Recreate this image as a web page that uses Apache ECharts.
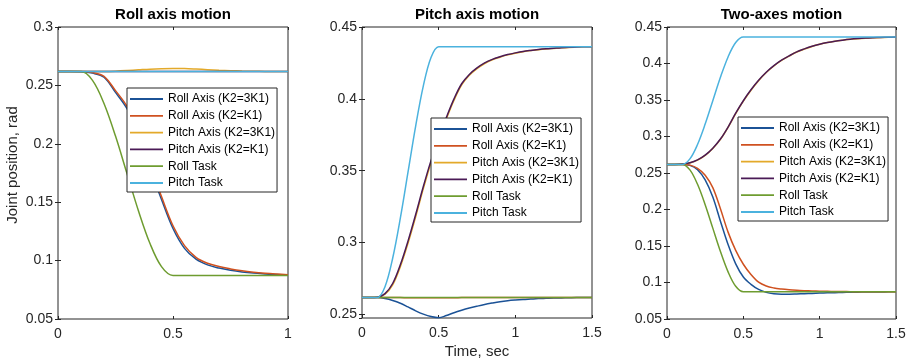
<!DOCTYPE html>
<html>
<head>
<meta charset="utf-8">
<script src="https://cdn.jsdelivr.net/npm/echarts@6/dist/echarts.min.js"></script>
<style>
  html, body { margin: 0; padding: 0; background: #fff; }
  #chart { width: 912px; height: 364px; }
</style>
</head>
<body>
<div id="chart"></div>
<script>
// Time samples (sec)
const timeRoll = [0, 0.05, 0.1, 0.15, 0.2, 0.25, 0.3, 0.35, 0.4, 0.45, 0.5,
  0.55, 0.6, 0.65, 0.7, 0.75, 0.8, 0.85, 0.9, 0.95, 1.0];
const timeLong = [0, 0.05, 0.1, 0.15, 0.2, 0.25, 0.3, 0.35, 0.4, 0.45, 0.5,
  0.55, 0.6, 0.65, 0.7, 0.75, 0.8, 0.85, 0.9, 0.95, 1.0,
  1.05, 1.1, 1.15, 1.2, 1.25, 1.3, 1.35, 1.4, 1.45, 1.5];

const seriesNames = ['Roll Axis (K2=3K1)', 'Roll Axis (K2=K1)', 'Pitch Axis (K2=3K1)',
  'Pitch Axis (K2=K1)', 'Roll Task', 'Pitch Task'];
const seriesColors = ['#1b5296', '#cf5120', '#e3a92a', '#4a1a56', '#6e9c30', '#4bb2de'];

const panelTitles = ['Roll axis motion', 'Pitch axis motion', 'Two-axes motion'];
const yTickMin = [0.05, 0.2475, 0.05];
const yTickMax = [0.3, 0.45, 0.45];
const xTickMax = [1, 1.5, 1.5];

// Roll axis motion (joint position, rad)
const rollRollK3 = [0.2618, 0.2618, 0.2617, 0.2605, 0.2570, 0.2440, 0.2300, 0.2078, 0.1788, 0.1524, 0.1275,
  0.1105, 0.1012, 0.0963, 0.0936, 0.0917, 0.0903, 0.0893, 0.0886, 0.0880, 0.0876];
const rollRollK1 = [0.2618, 0.2618, 0.2618, 0.2610, 0.2578, 0.2455, 0.2320, 0.2100, 0.1815, 0.1548, 0.1298,
  0.1128, 0.1028, 0.0977, 0.0949, 0.0929, 0.0913, 0.0901, 0.0892, 0.0885, 0.0879];
const rollPitchK3 = [0.2618, 0.2618, 0.2618, 0.2618, 0.2619, 0.2622, 0.2627, 0.2633, 0.2639, 0.2643, 0.2645,
  0.2644, 0.2640, 0.2635, 0.2630, 0.2626, 0.2623, 0.2621, 0.2620, 0.2619, 0.2618];
const rollPitchK1 = [0.2618, 0.2618, 0.2618, 0.2618, 0.2618, 0.2619, 0.2619, 0.2620, 0.2620, 0.2620, 0.2620,
  0.2620, 0.2619, 0.2619, 0.2619, 0.2618, 0.2618, 0.2618, 0.2618, 0.2618, 0.2618];
const rollRollTask = [0.2618, 0.2618, 0.2618, 0.2543, 0.2345, 0.2066, 0.1745, 0.1425, 0.1146, 0.0948, 0.0873,
  0.0873, 0.0873, 0.0873, 0.0873, 0.0873, 0.0873, 0.0873, 0.0873, 0.0873, 0.0873];
const rollPitchTask = [0.2618, 0.2618, 0.2618, 0.2618, 0.2618, 0.2618, 0.2618, 0.2618, 0.2618, 0.2618, 0.2618,
  0.2618, 0.2618, 0.2618, 0.2618, 0.2618, 0.2618, 0.2618, 0.2618, 0.2618, 0.2618];

// Pitch axis motion
const pitchRollK3 = [0.2618, 0.2618, 0.2617, 0.2610, 0.2597, 0.2578, 0.2552, 0.2525, 0.2502, 0.2485, 0.2477,
  0.2492, 0.2512, 0.2529, 0.2544, 0.2557, 0.2569, 0.2579, 0.2588, 0.2595, 0.2600,
  0.2604, 0.2607, 0.2610, 0.2612, 0.2614, 0.2615, 0.2616, 0.2617, 0.2617, 0.2618];
const pitchRollK1 = [0.2618, 0.2618, 0.2618, 0.2618, 0.2617, 0.2617, 0.2616, 0.2616, 0.2616, 0.2616, 0.2616,
  0.2616, 0.2616, 0.2617, 0.2617, 0.2617, 0.2617, 0.2617, 0.2618, 0.2618, 0.2618,
  0.2618, 0.2618, 0.2618, 0.2618, 0.2618, 0.2618, 0.2618, 0.2618, 0.2618, 0.2618];
const pitchPitchK3 = [0.2618, 0.2618, 0.2619, 0.2640, 0.2705, 0.2832, 0.2995, 0.3180, 0.3375, 0.3557, 0.3718,
  0.3860, 0.3990, 0.4097, 0.4164, 0.4210, 0.4246, 0.4272, 0.4290, 0.4306, 0.4318,
  0.4328, 0.4336, 0.4342, 0.4347, 0.4351, 0.4355, 0.4358, 0.4360, 0.4362, 0.4363];
const pitchPitchK1 = [0.2618, 0.2618, 0.2620, 0.2645, 0.2715, 0.2845, 0.3010, 0.3195, 0.3390, 0.3570, 0.3730,
  0.3870, 0.4000, 0.4105, 0.4170, 0.4215, 0.4250, 0.4275, 0.4293, 0.4308, 0.4320,
  0.4330, 0.4337, 0.4343, 0.4348, 0.4352, 0.4356, 0.4359, 0.4361, 0.4362, 0.4363];
const pitchRollTask = [0.2618, 0.2618, 0.2618, 0.2618, 0.2618, 0.2618, 0.2618, 0.2618, 0.2618, 0.2618, 0.2618,
  0.2618, 0.2618, 0.2618, 0.2618, 0.2618, 0.2618, 0.2618, 0.2618, 0.2618, 0.2618,
  0.2618, 0.2618, 0.2618, 0.2618, 0.2618, 0.2618, 0.2618, 0.2618, 0.2618, 0.2618];
const pitchPitchTask = [0.2618, 0.2618, 0.2618, 0.2693, 0.2891, 0.3170, 0.3490, 0.3811, 0.4090, 0.4288, 0.4363,
  0.4363, 0.4363, 0.4363, 0.4363, 0.4363, 0.4363, 0.4363, 0.4363, 0.4363, 0.4363,
  0.4363, 0.4363, 0.4363, 0.4363, 0.4363, 0.4363, 0.4363, 0.4363, 0.4363, 0.4363];

// Two-axes motion
const bothRollK3 = [0.2618, 0.2618, 0.2617, 0.2605, 0.2545, 0.2405, 0.2170, 0.1840, 0.1520, 0.1255, 0.1075,
  0.0975, 0.0905, 0.0865, 0.0846, 0.0840, 0.0840, 0.0843, 0.0847, 0.0851, 0.0855,
  0.0858, 0.0861, 0.0864, 0.0866, 0.0868, 0.0869, 0.0870, 0.0871, 0.0872, 0.0873];
const bothRollK1 = [0.2618, 0.2618, 0.2618, 0.2608, 0.2565, 0.2470, 0.2300, 0.2010, 0.1690, 0.1440, 0.1250,
  0.1110, 0.1005, 0.0952, 0.0925, 0.0910, 0.0900, 0.0893, 0.0888, 0.0884, 0.0881,
  0.0879, 0.0877, 0.0876, 0.0875, 0.0874, 0.0874, 0.0873, 0.0873, 0.0873, 0.0873];
const bothPitchK3 = [0.2618, 0.2618, 0.2621, 0.2638, 0.2677, 0.2741, 0.2835, 0.2960, 0.3124, 0.3314, 0.3484,
  0.3634, 0.3765, 0.3876, 0.3966, 0.4042, 0.4102, 0.4157, 0.4198, 0.4234, 0.4263,
  0.4287, 0.4305, 0.4319, 0.4331, 0.4340, 0.4347, 0.4352, 0.4356, 0.4359, 0.4361];
const bothPitchK1 = [0.2618, 0.2618, 0.2622, 0.2640, 0.2680, 0.2745, 0.2840, 0.2965, 0.3130, 0.3320, 0.3490,
  0.3640, 0.3770, 0.3880, 0.3970, 0.4045, 0.4105, 0.4160, 0.4200, 0.4236, 0.4265,
  0.4288, 0.4306, 0.4320, 0.4332, 0.4341, 0.4348, 0.4353, 0.4357, 0.4360, 0.4362];
const bothRollTask = [0.2618, 0.2618, 0.2618, 0.2543, 0.2345, 0.2066, 0.1745, 0.1425, 0.1146, 0.0948, 0.0873,
  0.0873, 0.0873, 0.0873, 0.0873, 0.0873, 0.0873, 0.0873, 0.0873, 0.0873, 0.0873,
  0.0873, 0.0873, 0.0873, 0.0873, 0.0873, 0.0873, 0.0873, 0.0873, 0.0873, 0.0873];
const bothPitchTask = [0.2618, 0.2618, 0.2618, 0.2693, 0.2891, 0.3170, 0.3490, 0.3811, 0.4090, 0.4288, 0.4363,
  0.4363, 0.4363, 0.4363, 0.4363, 0.4363, 0.4363, 0.4363, 0.4363, 0.4363, 0.4363,
  0.4363, 0.4363, 0.4363, 0.4363, 0.4363, 0.4363, 0.4363, 0.4363, 0.4363, 0.4363];

const panels = [
  { time: timeRoll, lines: [rollRollK3, rollRollK1, rollPitchK3, rollPitchK1, rollRollTask, rollPitchTask] },
  { time: timeLong, lines: [pitchRollK3, pitchRollK1, pitchPitchK3, pitchPitchK1, pitchRollTask, pitchPitchTask] },
  { time: timeLong, lines: [bothRollK3, bothRollK1, bothPitchK3, bothPitchK1, bothRollTask, bothPitchTask] }
];

const FONT = '"Liberation Sans", Arial, Helvetica, sans-serif';
const INK = '#262626';

// Plot boxes in pixels: [left, top, width, height]
const boxes = [[58, 27, 230, 292], [362, 27, 230, 291], [667, 27, 229, 292]];
const legendPos = [[127, 88], [431, 118], [738, 117]];

function pair(t, v) { return t.map((x, i) => [x, v[i]]); }

const grid = boxes.map(b => ({
  left: b[0], top: b[1], width: b[2], height: b[3],
  show: true, borderColor: INK, borderWidth: 1, backgroundColor: '#fff'
}));

function tickLabelFmt(v) {
  const k = v / 0.05;
  return Math.abs(k - Math.round(k)) < 1e-6 ? String(+v.toFixed(2)) : '';
}

const xAxis = [];
const yAxis = [];
// bottom / left axes carry labels; top / right axes only mirror the ticks
[false, true].forEach(mirror => {
  boxes.forEach((b, i) => {
    xAxis.push({
      type: 'value', gridIndex: i, position: mirror ? 'top' : 'bottom',
      min: 0, max: xTickMax[i], interval: 0.5,
      axisLine: { show: false },
      axisTick: { show: true, inside: true, length: 3, lineStyle: { color: INK, width: 1 } },
      axisLabel: { show: !mirror, margin: 8, fontFamily: FONT, fontSize: 14, color: INK },
      splitLine: { show: false }
    });
    const y = {
      type: 'value', gridIndex: i, position: mirror ? 'right' : 'left',
      min: yTickMin[i], max: yTickMax[i],
      axisLine: { show: false },
      axisTick: { show: true, inside: true, length: 3, lineStyle: { color: INK, width: 1 } },
      axisLabel: { show: !mirror, margin: 5, fontFamily: FONT, fontSize: 14, color: INK,
        formatter: tickLabelFmt, showMinLabel: i !== 1 },
      splitLine: { show: false }
    };
    if (i === 1) { y.splitNumber = 4; } else { y.interval = 0.05; }
    yAxis.push(y);
  });
});

const series = [];
panels.forEach((p, i) => {
  p.lines.forEach((vals, k) => {
    series.push({
      type: 'line', name: seriesNames[k], xAxisIndex: i, yAxisIndex: i,
      data: pair(p.time, vals), symbol: 'none', showSymbol: false,
      smooth: 0.35, clip: true,
      lineStyle: { color: seriesColors[k], width: 1.5 },
      itemStyle: { color: seriesColors[k] },
      emphasis: { disabled: true }
    });
  });
});

// Legend rows: a short coloured bar followed by the series name
const legend = legendPos.map(pos => ({
  data: seriesNames.map(n => ({ name: n, icon: 'rect' })),
  orient: 'vertical', left: pos[0], top: pos[1],
  padding: [5, 2, 3, 3], itemWidth: 33, itemHeight: 1.8, itemGap: 4.8,
  backgroundColor: '#fff', borderColor: INK, borderWidth: 1, borderRadius: 0,
  selectedMode: false,
  textStyle: { fontFamily: FONT, fontSize: 12, color: '#000', lineHeight: 12 }
}));

const title = panelTitles.map((t, i) => ({
  text: t, left: boxes[i][0] + boxes[i][2] / 2, top: 7, textAlign: 'center', padding: 0,
  textStyle: { fontFamily: FONT, fontSize: 15, fontWeight: 'bold', color: '#000' }
}));

const chart = echarts.init(document.getElementById('chart'), null, { renderer: 'canvas' });
chart.setOption({
  animation: false,
  backgroundColor: '#fff',
  title, grid, xAxis, yAxis, legend, series,
  graphic: [
    { type: 'text', x: 13, y: 165, rotation: Math.PI / 2,
      style: { text: 'Joint position, rad', font: '15px ' + FONT, fill: INK,
        align: 'center', verticalAlign: 'middle' } },
    { type: 'text', x: 477, y: 352,
      style: { text: 'Time, sec', font: '15px ' + FONT, fill: INK,
        align: 'center', verticalAlign: 'middle' } }
  ]
});
</script>
</body>
</html>
